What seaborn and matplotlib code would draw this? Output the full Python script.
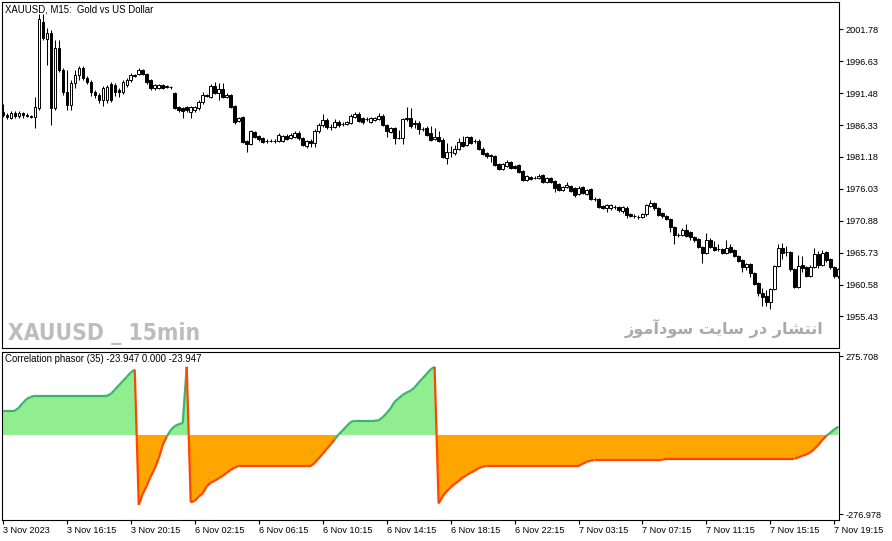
import unicodedata
import numpy as np
import pandas as pd
import matplotlib
matplotlib.use("Agg")
import matplotlib.pyplot as plt
import matplotlib.font_manager as fm
from matplotlib.collections import LineCollection
import seaborn as sns

# ---------------- data ----------------
opens = [
    1988.43, 1987.94, 1987.46, 1988.27, 1987.78, 1988.27, 1987.94, 1987.78, 1987.62, 1989.08,
    2002.96, 2000.22, 2001.19, 1989.08, 1998.76, 1995.21, 1991.66, 1989.56, 1993.12, 1994.40,
    1995.53, 1993.92, 1993.28, 1991.66, 1991.17, 1990.37, 1990.37, 1992.95, 1992.79, 1991.98,
    1991.66, 1992.79, 1993.60, 1994.40, 1994.56, 1995.21, 1994.56, 1993.60, 1992.31, 1992.31,
    1992.79, 1992.47, 1992.47, 1991.50, 1989.24, 1989.08, 1989.24, 1988.43, 1988.75, 1989.08,
    1990.05, 1991.17, 1990.85, 1992.63, 1991.50, 1992.15, 1990.85, 1991.17, 1989.40, 1986.98,
    1987.62, 1983.75, 1983.27, 1985.20, 1984.56, 1984.24, 1983.75, 1983.75, 1983.75, 1983.75,
    1983.75, 1984.56, 1984.24, 1984.40, 1985.04, 1984.24, 1982.94, 1983.75, 1983.43, 1985.36,
    1986.33, 1987.14, 1986.01, 1986.01, 1986.82, 1986.49, 1986.49, 1986.66, 1987.62, 1988.10,
    1987.46, 1987.30, 1986.82, 1987.14, 1987.30, 1987.78, 1986.33, 1985.20, 1985.85, 1984.24,
    1984.24, 1987.30, 1987.46, 1986.49, 1986.66, 1985.69, 1985.85, 1985.04, 1984.07, 1984.40,
    1983.91, 1981.00, 1981.97, 1981.81, 1982.46, 1983.59, 1983.10, 1984.40, 1983.75, 1983.75,
    1982.46, 1981.81, 1981.48, 1981.32, 1980.03, 1979.22, 1979.71, 1980.36, 1979.71, 1979.87,
    1978.90, 1977.45, 1977.93, 1977.77, 1977.77, 1978.25, 1977.13, 1977.77, 1977.29, 1976.80,
    1975.84, 1976.32, 1976.48, 1976.16, 1975.19, 1976.32, 1975.19, 1976.00, 1974.38, 1974.38,
    1973.25, 1972.93, 1972.93, 1973.09, 1973.09, 1972.45, 1972.93, 1971.96, 1971.64, 1971.48,
    1971.48, 1971.96, 1973.25, 1973.74, 1972.93, 1972.12, 1971.64, 1971.16, 1969.86, 1968.57,
    1968.57, 1969.38, 1969.06, 1968.25, 1967.92, 1966.63, 1965.66, 1967.76, 1966.63, 1966.31,
    1966.31, 1965.66, 1966.63, 1966.15, 1965.18, 1964.54, 1963.41, 1963.89, 1962.44, 1960.82,
    1959.21, 1958.72, 1957.76, 1959.85, 1963.57, 1966.47, 1965.83, 1965.83, 1963.08, 1960.18,
    1963.73, 1963.41, 1961.95, 1963.41, 1965.50, 1963.73, 1965.83, 1964.70, 1963.41, 1961.95,
]
highs = [
    1989.72, 1988.27, 1988.59, 1988.59, 1988.59, 1988.43, 1988.27, 1987.94, 1990.85, 2004.25,
    2004.25, 2001.99, 2001.67, 2000.05, 2000.05, 1995.53, 1995.21, 1993.60, 1995.21, 1995.85,
    1995.85, 1994.24, 1993.60, 1991.98, 1991.50, 1992.63, 1992.79, 1993.28, 1993.12, 1992.31,
    1993.60, 1993.92, 1994.73, 1994.56, 1995.53, 1995.37, 1994.73, 1993.76, 1992.95, 1992.95,
    1992.95, 1992.79, 1992.63, 1991.66, 1989.40, 1989.24, 1989.40, 1989.40, 1989.40, 1990.37,
    1991.66, 1991.33, 1992.95, 1993.28, 1993.12, 1993.12, 1991.50, 1991.33, 1989.56, 1987.62,
    1987.78, 1983.91, 1985.52, 1985.36, 1984.72, 1984.40, 1984.07, 1984.07, 1984.07, 1985.04,
    1984.72, 1984.88, 1985.04, 1985.36, 1985.36, 1984.40, 1983.91, 1984.07, 1985.69, 1986.66,
    1988.10, 1987.46, 1986.49, 1987.30, 1987.14, 1986.82, 1986.98, 1988.10, 1988.43, 1988.43,
    1987.62, 1987.62, 1987.62, 1987.62, 1988.27, 1988.10, 1986.49, 1986.01, 1986.01, 1985.52,
    1987.46, 1989.24, 1989.08, 1987.14, 1986.98, 1986.01, 1986.17, 1986.17, 1985.85, 1985.36,
    1984.24, 1983.43, 1982.94, 1983.10, 1984.24, 1984.56, 1984.56, 1984.56, 1984.07, 1984.07,
    1982.78, 1981.97, 1981.65, 1981.48, 1980.19, 1980.19, 1980.68, 1980.52, 1979.87, 1980.03,
    1979.06, 1978.25, 1978.09, 1978.09, 1978.42, 1978.42, 1977.93, 1977.93, 1977.45, 1976.96,
    1976.48, 1977.13, 1976.64, 1976.32, 1976.48, 1976.48, 1976.00, 1976.16, 1974.71, 1974.55,
    1973.41, 1973.58, 1973.58, 1973.41, 1973.25, 1973.25, 1973.25, 1972.12, 1971.96, 1971.80,
    1972.12, 1973.58, 1974.22, 1973.90, 1973.09, 1972.29, 1971.80, 1971.32, 1970.02, 1968.89,
    1969.70, 1970.34, 1969.22, 1968.41, 1968.09, 1966.79, 1968.89, 1968.09, 1967.60, 1967.12,
    1966.47, 1967.76, 1967.12, 1966.31, 1965.34, 1964.70, 1964.05, 1964.05, 1962.60, 1960.98,
    1960.01, 1959.69, 1960.01, 1963.73, 1967.12, 1967.28, 1966.79, 1965.99, 1963.24, 1965.34,
    1965.18, 1963.57, 1963.73, 1966.47, 1965.99, 1966.15, 1965.99, 1964.86, 1963.57, 1963.24,
]
lows = [
    1987.62, 1987.30, 1987.30, 1987.46, 1987.46, 1987.46, 1987.62, 1987.46, 1985.85, 1988.75,
    2000.05, 1996.01, 1986.33, 1988.75, 1994.89, 1991.17, 1988.75, 1988.75, 1992.31, 1993.60,
    1993.60, 1992.95, 1991.01, 1990.69, 1989.89, 1989.40, 1989.89, 1990.05, 1991.01, 1990.85,
    1991.33, 1992.47, 1993.28, 1994.08, 1994.40, 1994.40, 1992.95, 1991.98, 1991.98, 1992.15,
    1992.15, 1992.31, 1992.15, 1988.92, 1988.43, 1987.46, 1988.43, 1987.46, 1988.43, 1988.75,
    1989.72, 1990.85, 1990.69, 1991.33, 1990.37, 1990.69, 1990.69, 1989.08, 1986.49, 1986.82,
    1983.43, 1981.97, 1983.10, 1984.24, 1983.75, 1983.43, 1983.43, 1983.59, 1983.43, 1983.59,
    1983.59, 1983.91, 1984.07, 1984.24, 1983.91, 1982.94, 1982.62, 1982.78, 1982.78, 1985.04,
    1986.01, 1985.69, 1985.52, 1985.85, 1986.01, 1986.17, 1986.33, 1986.49, 1987.46, 1986.82,
    1986.49, 1986.98, 1986.66, 1986.98, 1987.14, 1986.17, 1984.40, 1985.04, 1983.27, 1984.07,
    1983.27, 1986.98, 1985.85, 1985.85, 1984.88, 1985.36, 1984.56, 1983.75, 1983.91, 1983.59,
    1981.00, 1980.03, 1981.16, 1981.48, 1982.29, 1982.78, 1982.94, 1983.27, 1983.43, 1982.29,
    1981.48, 1981.00, 1980.36, 1979.71, 1979.06, 1979.06, 1979.55, 1979.22, 1979.22, 1978.58,
    1977.29, 1977.29, 1977.45, 1977.61, 1977.61, 1976.96, 1976.96, 1976.96, 1975.52, 1975.68,
    1975.68, 1976.16, 1975.52, 1974.71, 1975.03, 1975.19, 1975.03, 1974.22, 1974.06, 1972.93,
    1972.77, 1972.29, 1972.61, 1972.77, 1972.29, 1972.12, 1971.32, 1971.48, 1971.32, 1971.16,
    1971.32, 1971.64, 1973.09, 1972.61, 1971.64, 1971.32, 1970.99, 1969.06, 1967.12, 1968.25,
    1968.41, 1968.25, 1967.76, 1967.44, 1966.47, 1964.05, 1965.50, 1966.47, 1965.99, 1965.99,
    1965.50, 1965.50, 1965.66, 1965.02, 1964.21, 1962.60, 1962.92, 1961.79, 1960.50, 1958.72,
    1957.11, 1957.11, 1956.62, 1959.69, 1963.41, 1964.70, 1965.18, 1962.76, 1960.01, 1960.01,
    1962.60, 1961.79, 1961.79, 1963.24, 1963.24, 1963.57, 1964.21, 1963.08, 1961.63, 1961.63,
]
closes = [
    1987.94, 1987.62, 1988.27, 1987.78, 1988.27, 1987.94, 1987.78, 1987.62, 1989.24, 2003.45,
    2000.38, 2001.19, 1989.08, 1998.76, 1995.21, 1991.66, 1989.56, 1993.12, 1994.40, 1995.53,
    1993.92, 1993.28, 1991.66, 1991.17, 1990.37, 1992.31, 1992.47, 1990.37, 1991.66, 1991.66,
    1993.28, 1993.60, 1994.40, 1994.24, 1995.21, 1994.56, 1993.28, 1992.31, 1992.79, 1992.79,
    1992.31, 1992.63, 1992.47, 1989.08, 1988.75, 1988.59, 1988.75, 1989.24, 1989.24, 1990.05,
    1991.17, 1991.01, 1992.63, 1991.50, 1992.15, 1990.85, 1991.17, 1989.24, 1986.82, 1987.46,
    1983.59, 1983.27, 1985.36, 1984.40, 1984.07, 1983.59, 1983.75, 1983.75, 1983.75, 1984.72,
    1984.56, 1984.07, 1984.72, 1985.04, 1984.24, 1983.10, 1983.75, 1983.43, 1985.36, 1986.33,
    1987.14, 1986.01, 1986.01, 1986.82, 1986.33, 1986.49, 1986.82, 1987.78, 1988.10, 1986.98,
    1986.82, 1987.30, 1987.46, 1987.46, 1987.78, 1986.33, 1985.36, 1985.85, 1984.24, 1984.24,
    1987.30, 1987.46, 1986.17, 1986.66, 1985.69, 1985.69, 1984.72, 1983.91, 1984.40, 1983.75,
    1981.16, 1981.97, 1981.97, 1982.46, 1983.59, 1982.94, 1984.40, 1983.43, 1983.75, 1982.46,
    1981.65, 1981.32, 1981.32, 1979.87, 1979.22, 1980.03, 1980.36, 1979.39, 1979.39, 1978.74,
    1977.45, 1978.09, 1977.61, 1977.77, 1978.09, 1977.13, 1977.77, 1977.13, 1976.16, 1975.84,
    1976.32, 1976.64, 1975.68, 1975.03, 1976.16, 1975.35, 1975.84, 1974.38, 1974.38, 1973.09,
    1972.93, 1973.41, 1973.41, 1973.09, 1972.61, 1973.09, 1971.80, 1971.64, 1971.64, 1971.48,
    1971.96, 1973.41, 1973.74, 1972.93, 1971.80, 1971.64, 1971.16, 1969.86, 1968.57, 1968.57,
    1969.38, 1968.41, 1968.25, 1967.76, 1966.63, 1965.66, 1967.76, 1966.63, 1966.15, 1966.31,
    1965.66, 1966.47, 1965.83, 1965.18, 1964.37, 1963.41, 1963.89, 1962.44, 1960.66, 1959.21,
    1958.56, 1957.76, 1959.85, 1963.57, 1966.47, 1965.66, 1965.83, 1963.08, 1960.18, 1963.57,
    1963.24, 1961.95, 1963.41, 1965.50, 1963.73, 1965.66, 1964.54, 1963.41, 1961.95, 1963.08,
]
phasor = [
    85, 85, 85, 85, 95, 112, 126, 133, 137, 137,
    137, 137, 137, 137, 137, 137, 137, 137, 137, 137,
    137, 137, 137, 137, 137, 137, 137, 143, 158, 173,
    188, 203, 218, 228, -244, -206, -177, -145, -117, -82,
    -35, -6, 17, 31, 38, 41, 238, -235, -230, -215,
    -204, -180, -166, -160, -151, -143, -132, -122, -114, -108,
    -108, -108, -108, -108, -108, -108, -108, -108, -108, -108,
    -108, -108, -108, -108, -108, -108, -108, -108, -98, -82,
    -66, -49, -33, -16, 2, 16, 31, 45, 50, 50,
    50, 50, 50, 50, 51, 62, 76, 93, 116, 128,
    140, 148, 155, 166, 183, 198, 213, 229, 238, -239,
    -215, -197, -183, -171, -161, -149, -140, -132, -125, -116,
    -111, -108, -108, -108, -108, -108, -108, -108, -108, -108,
    -108, -108, -108, -108, -108, -108, -108, -108, -108, -108,
    -108, -108, -108, -108, -108, -101, -94, -90, -87, -87,
    -87, -87, -87, -87, -87, -87, -87, -87, -87, -87,
    -87, -87, -87, -87, -87, -87, -83, -83, -83, -83,
    -83, -83, -83, -83, -83, -83, -83, -83, -83, -83,
    -83, -83, -83, -83, -83, -83, -83, -83, -83, -83,
    -83, -83, -83, -83, -83, -83, -83, -83, -83, -78,
    -73, -68, -61, -49, -35, -17, -3, 8, 20, 29,
]
price_ticks = [2001.78, 1996.63, 1991.48, 1986.33, 1981.18, 1976.03, 1970.88, 1965.73, 1960.58, 1955.43]
price_tick_labels = ["2001.78", "1996.63", "1991.48", "1986.33", "1981.18", "1976.03",
                     "1970.88", "1965.73", "1960.58", "1955.43"]
ind_ticks = [275.708, -276.978]
ind_tick_labels = ["275.708", "-276.978"]
time_tick_bars = [0, 16, 32, 48, 64, 80, 96, 112, 128, 144, 160, 176, 192, 208]
time_tick_labels = ["3 Nov 2023", "3 Nov 16:15", "3 Nov 20:15", "6 Nov 02:15", "6 Nov 06:15",
                    "6 Nov 10:15", "6 Nov 14:15", "6 Nov 18:15", "6 Nov 22:15", "7 Nov 03:15",
                    "7 Nov 07:15", "7 Nov 11:15", "7 Nov 15:15", "7 Nov 19:15"]
title_text = "XAUUSD, M15:  Gold vs US Dollar"
indicator_text = "Correlation phasor (35) -23.947 0.000 -23.947"
watermark_left = "XAUUSD _ 15min"
watermark_right = "انتشار در سایت سودآموز"

df = pd.DataFrame({"open": opens, "high": highs, "low": lows, "close": closes, "phasor": phasor})
df["bar"] = np.arange(len(df))

# --------- simple Arabic-script shaping (matplotlib has no shaping/bidi) ---------
FORMS = {  # isolated, final, initial, medial
    "\u0627": ("\uFE8D", "\uFE8E", None, None),
    "\u0622": ("\uFE81", "\uFE82", None, None),
    "\u062F": ("\uFEA9", "\uFEAA", None, None),
    "\u0631": ("\uFEAD", "\uFEAE", None, None),
    "\u0632": ("\uFEAF", "\uFEB0", None, None),
    "\u0648": ("\uFEED", "\uFEEE", None, None),
    "\u0646": ("\uFEE5", "\uFEE6", "\uFEE7", "\uFEE8"),
    "\u062A": ("\uFE95", "\uFE96", "\uFE97", "\uFE98"),
    "\u0634": ("\uFEB5", "\uFEB6", "\uFEB7", "\uFEB8"),
    "\u0633": ("\uFEB1", "\uFEB2", "\uFEB3", "\uFEB4"),
    "\u06CC": ("\uFBFC", "\uFBFD", "\uFBFE", "\uFBFF"),
    "\u064A": ("\uFEF1", "\uFEF2", "\uFEF3", "\uFEF4"),
    "\u0645": ("\uFEE1", "\uFEE2", "\uFEE3", "\uFEE4"),
}


def shape_rtl(text):
    text = unicodedata.normalize("NFC", text)
    out = []
    for k, ch in enumerate(text):
        if ch not in FORMS:
            out.append(ch)
            continue
        prev = text[k - 1] if k > 0 else ""
        nxt = text[k + 1] if k + 1 < len(text) else ""
        jp = prev in FORMS and FORMS[prev][2] is not None
        jn = FORMS[ch][2] is not None and nxt in FORMS
        f = FORMS[ch]
        if jp and jn:
            g = f[3]
        elif jp:
            g = f[1]
        elif jn:
            g = f[2]
        else:
            g = f[0]
        out.append(g)
    return "".join(reversed(out))


def condensed_bold_font():
    """Find a narrow / condensed bold face among the installed fonts."""
    best = None
    for f in fm.fontManager.ttflist:
        w = f.weight
        if isinstance(w, str):
            w = fm.weight_dict.get(w, 400)
        fname = str(f.fname)
        narrow = ("Narrow" in f.name or "Condensed" in f.name or "Condensed" in fname
                  or "Narrow" in fname or str(f.stretch) in ("condensed", "semi-condensed"))
        if narrow and w >= 600:
            if "Liberation" in f.name or "Liberation" in fname:
                return fm.FontProperties(fname=fname), 20.5
            best = best or (fm.FontProperties(fname=fname), 16.4)
    return best


# ---------------- figure ----------------
sns.set_theme(style="white")
plt.rcParams["font.family"] = ["Liberation Sans", "DejaVu Sans"]

W, H = 892, 541
fig = plt.figure(figsize=(W / 100, H / 100), dpi=100)
fig.patch.set_facecolor("white")
ax = fig.add_axes([2 / W, 1 - 348 / H, 837 / W, 346 / H])
ax2 = fig.add_axes([2 / W, 1 - 520 / H, 837 / W, 168 / H])

FS = 6.6
for a in (ax, ax2):
    a.set_facecolor("white")
    a.grid(False)
    for s in a.spines.values():
        s.set_color("black")
        s.set_linewidth(0.8)
        s.set_visible(True)
    a.set_xlim(-0.2, 209.15)

# candles
up = df["close"] >= df["open"]
ax.vlines(df["bar"], df["low"], df["high"], color="black", linewidth=0.75, zorder=2)
ax.bar(df["bar"], df["close"] - df["open"], bottom=df["open"], width=0.62,
       color=np.where(up, "white", "black"), edgecolor="black", linewidth=0.7, zorder=3)
ax.set_ylim(1950.33, 2006.19)
ax.set_xticks([])
ax.yaxis.tick_right()
ax.set_yticks(price_ticks)
ax.set_yticklabels(price_tick_labels)
ax.tick_params(axis="y", which="both", direction="out", length=3, width=0.8,
               labelsize=FS, pad=1.5, colors="black", right=True, left=False)

ax.text(3 / 837, 1 - 8 / 346, title_text, transform=ax.transAxes, ha="left", va="center",
        fontsize=6.9, color="black")

cond = condensed_bold_font()
if cond is not None:
    fp, size = cond
    fp.set_size(size)
    ax.text(5.5 / 837, 1 - 338 / 346, watermark_left, transform=ax.transAxes, ha="left",
            va="baseline", fontproperties=fp, color="#bdbdbd")
else:
    ax.text(5.5 / 837, 1 - 338 / 346, watermark_left, transform=ax.transAxes, ha="left",
            va="baseline", fontsize=16.5, fontweight="bold", color="#bdbdbd",
            family=["Liberation Sans", "DejaVu Sans"])

ax.text(821 / 837, 1 - 332.5 / 346, shape_rtl(watermark_right), transform=ax.transAxes,
        ha="right", va="baseline", fontsize=11.6, fontweight="bold", color="#aaaaaa",
        family=["DejaVu Sans"])

# indicator
v = df["phasor"].to_numpy(dtype=float)
x = df["bar"].to_numpy(dtype=float)
ax2.fill_between(x, v, 0, where=v >= 0, interpolate=True, color="#90EE90", linewidth=0, zorder=1)
ax2.fill_between(x, v, 0, where=v <= 0, interpolate=True, color="#FFA500", linewidth=0, zorder=1)
segs = [[(x[i - 1], v[i - 1]), (x[i], v[i])] for i in range(1, len(x))]
cols = ["#3CB371" if v[i] >= 0 else "#FF4500" for i in range(1, len(x))]
ax2.add_collection(LineCollection(segs, colors=cols, linewidths=1.6, zorder=3))
ax2.set_ylim(-296.9, 289.7)
ax2.yaxis.tick_right()
ax2.set_yticks(ind_ticks)
ax2.set_yticklabels(ind_tick_labels)
ax2.tick_params(axis="y", which="both", direction="out", length=3, width=0.8,
                labelsize=FS, pad=1.5, colors="black", right=True, left=False)
ax2.set_xticks(time_tick_bars)
ax2.set_xticklabels(time_tick_labels)
ax2.tick_params(axis="x", which="both", direction="out", length=3, width=0.8,
                labelsize=FS, pad=1.5, colors="black", bottom=True)
for lbl in ax2.get_xticklabels():
    lbl.set_ha("left")
ax2.text(3 / 837, 1 - 7.5 / 168, indicator_text, transform=ax2.transAxes, ha="left",
         va="center", fontsize=6.9, color="black")

fig.savefig("out.png", dpi=100, facecolor="white")
